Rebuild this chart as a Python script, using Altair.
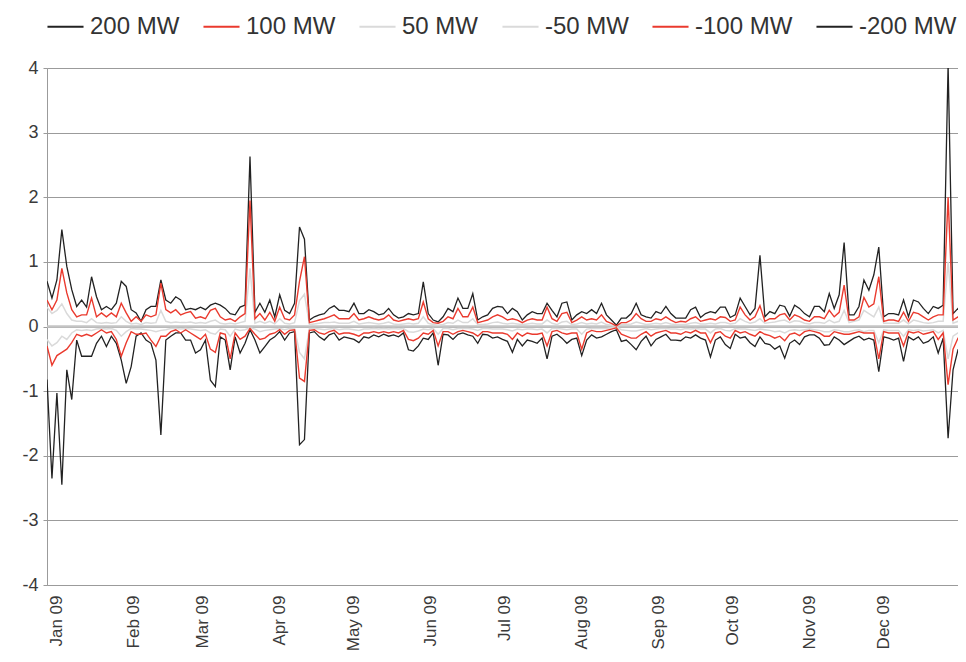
import altair as alt
import pandas as pd

# ---- data (values every 2 days) ----
p200 = [0.70,0.44,0.72,1.50,0.93,0.57,0.31,0.41,0.30,0.77,0.46,0.26,0.31,0.26,0.36,0.70,0.62,0.26,0.21,0.08,0.26,0.31,0.31,0.72,0.41,0.36,0.46,0.41,0.26,0.28,0.26,
        0.30,0.26,0.33,0.36,0.33,0.28,0.20,0.18,0.30,0.33,2.63,0.22,0.36,0.22,0.41,0.15,0.49,0.25,0.20,0.36,1.54,1.35,0.10,0.15,0.18,0.20,0.28,0.32,0.25,0.25,
        0.23,0.36,0.20,0.20,0.26,0.23,0.18,0.20,0.28,0.18,0.13,0.15,0.20,0.18,0.20,0.69,0.20,0.10,0.07,0.15,0.28,0.23,0.44,0.28,0.28,0.51,0.10,0.15,0.18,0.28,0.31,
        0.30,0.20,0.28,0.23,0.10,0.18,0.23,0.20,0.20,0.36,0.25,0.15,0.36,0.38,0.10,0.18,0.23,0.20,0.26,0.20,0.36,0.18,0.10,0.02,0.13,0.13,0.20,0.36,0.18,0.15,
        0.13,0.23,0.20,0.31,0.20,0.13,0.13,0.13,0.26,0.30,0.14,0.20,0.23,0.21,0.30,0.30,0.14,0.18,0.44,0.31,0.18,0.28,1.10,0.15,0.23,0.20,0.33,0.31,0.16,0.33,0.28,
        0.20,0.15,0.31,0.31,0.23,0.51,0.28,0.49,1.30,0.18,0.18,0.31,0.72,0.56,0.80,1.23,0.15,0.20,0.20,0.18,0.41,0.15,0.41,0.38,0.28,0.20,0.31,0.28,0.33,4.05,0.20,0.28,0.10]

p100 = [0.41,0.26,0.41,0.90,0.52,0.26,0.15,0.18,0.18,0.44,0.15,0.21,0.15,0.21,0.15,0.36,0.21,0.08,0.15,0.08,0.18,0.15,0.18,0.67,0.26,0.21,0.26,0.18,0.21,0.23,0.13,
        0.15,0.12,0.25,0.28,0.15,0.10,0.12,0.08,0.15,0.20,1.95,0.12,0.20,0.10,0.22,0.08,0.30,0.12,0.10,0.18,0.70,1.08,0.06,0.08,0.10,0.12,0.15,0.18,0.12,0.12,
        0.12,0.20,0.10,0.12,0.15,0.12,0.10,0.12,0.18,0.10,0.08,0.10,0.12,0.10,0.12,0.38,0.12,0.06,0.05,0.08,0.15,0.12,0.28,0.15,0.15,0.30,0.06,0.08,0.10,0.15,0.18,
        0.15,0.10,0.12,0.10,0.06,0.10,0.12,0.10,0.10,0.30,0.12,0.08,0.20,0.22,0.06,0.10,0.15,0.10,0.12,0.10,0.18,0.08,0.05,0.01,0.06,0.06,0.10,0.20,0.12,0.08,
        0.08,0.12,0.10,0.15,0.10,0.06,0.08,0.07,0.12,0.15,0.08,0.10,0.12,0.10,0.15,0.14,0.08,0.10,0.30,0.18,0.10,0.15,0.32,0.08,0.12,0.12,0.18,0.20,0.10,0.18,0.15,
        0.10,0.08,0.15,0.15,0.12,0.25,0.15,0.22,0.64,0.10,0.10,0.15,0.45,0.30,0.35,0.77,0.08,0.10,0.10,0.08,0.22,0.08,0.22,0.20,0.15,0.10,0.15,0.18,0.18,2.00,0.10,0.15,0.06]

p50 = [0.30,0.20,0.25,0.35,0.20,0.10,0.08,0.08,0.06,0.12,0.06,0.05,0.06,0.05,0.06,0.15,0.08,0.04,0.05,0.03,0.06,0.05,0.06,0.25,0.08,0.06,0.07,0.06,0.06,0.07,0.05,
       0.06,0.05,0.08,0.10,0.05,0.04,0.05,0.04,0.06,0.08,0.90,0.05,0.08,0.05,0.08,0.04,0.12,0.05,0.04,0.06,0.40,0.50,0.03,0.04,0.05,0.06,0.06,0.07,0.05,0.05,
       0.05,0.08,0.04,0.05,0.06,0.05,0.04,0.05,0.07,0.04,0.03,0.04,0.05,0.04,0.05,0.15,0.05,0.03,0.02,0.03,0.06,0.05,0.10,0.06,0.06,0.12,0.03,0.03,0.04,0.06,0.07,
       0.05,0.04,0.05,0.04,0.03,0.04,0.05,0.04,0.04,0.10,0.05,0.03,0.07,0.08,0.03,0.04,0.06,0.04,0.05,0.04,0.07,0.03,0.02,0.01,0.03,0.03,0.04,0.07,0.05,0.03,
       0.04,0.05,0.04,0.06,0.04,0.03,0.03,0.03,0.05,0.06,0.04,0.04,0.05,0.04,0.06,0.06,0.04,0.05,0.12,0.08,0.05,0.07,0.12,0.05,0.06,0.07,0.09,0.10,0.06,0.09,0.08,
       0.05,0.04,0.06,0.06,0.05,0.10,0.06,0.08,0.25,0.06,0.08,0.10,0.25,0.20,0.15,0.30,0.05,0.05,0.05,0.05,0.10,0.04,0.10,0.08,0.06,0.05,0.06,0.08,0.08,1.00,0.05,0.08,0.03]

n50 = [-0.20,-0.30,-0.25,-0.15,-0.20,-0.10,-0.05,-0.06,-0.05,-0.06,-0.04,-0.03,-0.04,-0.03,-0.06,-0.15,-0.08,-0.03,-0.04,-0.04,-0.05,-0.06,-0.08,-0.06,-0.05,-0.03,-0.03,-0.04,-0.03,-0.04,-0.05,
       -0.06,-0.05,-0.10,-0.12,-0.04,-0.05,-0.15,-0.04,-0.06,-0.05,-0.02,-0.04,-0.08,-0.06,-0.05,-0.04,-0.03,-0.05,-0.03,-0.03,-0.40,-0.50,-0.03,-0.03,-0.04,-0.05,-0.04,-0.03,-0.05,-0.04,
       -0.04,-0.05,-0.06,-0.04,-0.04,-0.03,-0.04,-0.03,-0.04,-0.03,-0.04,-0.03,-0.08,-0.09,-0.07,-0.04,-0.05,-0.03,-0.12,-0.03,-0.03,-0.05,-0.03,-0.03,-0.03,-0.04,-0.06,-0.03,-0.03,-0.04,-0.04,
       -0.04,-0.05,-0.07,-0.04,-0.05,-0.04,-0.04,-0.05,-0.04,-0.10,-0.03,-0.03,-0.04,-0.05,-0.04,-0.04,-0.12,-0.04,-0.03,-0.03,-0.03,-0.03,-0.02,-0.01,-0.05,-0.06,-0.07,-0.07,-0.05,-0.03,
       -0.05,-0.04,-0.03,-0.03,-0.04,-0.04,-0.05,-0.03,-0.04,-0.03,-0.04,-0.04,-0.10,-0.04,-0.03,-0.06,-0.07,-0.03,-0.04,-0.04,-0.05,-0.06,-0.04,-0.05,-0.06,-0.08,-0.07,-0.10,-0.06,-0.05,-0.06,
       -0.05,-0.04,-0.05,-0.06,-0.08,-0.08,-0.05,-0.06,-0.08,-0.08,-0.06,-0.05,-0.08,-0.06,-0.06,-0.25,-0.05,-0.06,-0.06,-0.06,-0.15,-0.05,-0.06,-0.05,-0.07,-0.06,-0.05,-0.10,-0.06,-0.50,-0.15,-0.10,-0.06]

n100 = [-0.30,-0.60,-0.45,-0.40,-0.35,-0.25,-0.12,-0.15,-0.12,-0.15,-0.10,-0.05,-0.10,-0.08,-0.20,-0.46,-0.25,-0.08,-0.12,-0.12,-0.10,-0.21,-0.31,-0.15,-0.15,-0.08,-0.05,-0.10,-0.05,-0.10,-0.15,
        -0.20,-0.12,-0.35,-0.40,-0.10,-0.12,-0.50,-0.10,-0.20,-0.15,-0.03,-0.12,-0.20,-0.18,-0.12,-0.10,-0.05,-0.12,-0.06,-0.05,-0.80,-0.85,-0.06,-0.05,-0.10,-0.12,-0.08,-0.06,-0.12,-0.10,
        -0.10,-0.12,-0.15,-0.10,-0.10,-0.08,-0.10,-0.08,-0.10,-0.08,-0.10,-0.06,-0.20,-0.22,-0.18,-0.10,-0.12,-0.06,-0.30,-0.08,-0.08,-0.12,-0.08,-0.06,-0.08,-0.10,-0.15,-0.08,-0.08,-0.10,-0.10,
        -0.10,-0.12,-0.20,-0.10,-0.15,-0.10,-0.12,-0.12,-0.10,-0.30,-0.08,-0.06,-0.10,-0.12,-0.10,-0.10,-0.35,-0.10,-0.06,-0.08,-0.08,-0.06,-0.04,-0.02,-0.12,-0.15,-0.18,-0.18,-0.12,-0.08,
        -0.15,-0.10,-0.08,-0.06,-0.10,-0.10,-0.12,-0.08,-0.10,-0.06,-0.10,-0.10,-0.25,-0.10,-0.08,-0.15,-0.18,-0.06,-0.10,-0.08,-0.12,-0.15,-0.08,-0.12,-0.14,-0.18,-0.15,-0.22,-0.12,-0.10,-0.14,
        -0.08,-0.06,-0.08,-0.10,-0.15,-0.15,-0.08,-0.10,-0.12,-0.12,-0.10,-0.08,-0.10,-0.10,-0.10,-0.50,-0.08,-0.10,-0.10,-0.10,-0.30,-0.08,-0.10,-0.08,-0.12,-0.10,-0.08,-0.20,-0.10,-0.90,-0.35,-0.18,-0.12]

n200 = [-0.82,-2.35,-1.03,-2.45,-0.67,-1.13,-0.21,-0.46,-0.46,-0.46,-0.26,-0.15,-0.31,-0.15,-0.26,-0.52,-0.88,-0.62,-0.15,-0.10,-0.21,-0.26,-0.52,-1.68,-0.21,-0.15,-0.10,-0.10,-0.21,-0.21,-0.41,
        -0.36,-0.21,-0.83,-0.93,-0.16,-0.21,-0.67,-0.16,-0.41,-0.26,-0.05,-0.21,-0.41,-0.31,-0.21,-0.16,-0.08,-0.21,-0.10,-0.08,-1.83,-1.75,-0.10,-0.08,-0.16,-0.21,-0.13,-0.10,-0.21,-0.16,
        -0.18,-0.20,-0.25,-0.16,-0.18,-0.13,-0.16,-0.12,-0.15,-0.13,-0.16,-0.10,-0.36,-0.38,-0.30,-0.18,-0.20,-0.10,-0.60,-0.12,-0.13,-0.20,-0.12,-0.10,-0.13,-0.15,-0.26,-0.12,-0.13,-0.18,-0.16,
        -0.20,-0.23,-0.40,-0.20,-0.30,-0.21,-0.23,-0.26,-0.18,-0.50,-0.15,-0.12,-0.18,-0.26,-0.20,-0.18,-0.45,-0.21,-0.13,-0.18,-0.16,-0.12,-0.08,-0.05,-0.23,-0.21,-0.28,-0.36,-0.23,-0.15,
        -0.30,-0.20,-0.16,-0.12,-0.21,-0.21,-0.22,-0.16,-0.18,-0.13,-0.18,-0.21,-0.47,-0.21,-0.16,-0.28,-0.34,-0.12,-0.18,-0.16,-0.25,-0.31,-0.16,-0.26,-0.28,-0.35,-0.30,-0.49,-0.26,-0.21,-0.28,
        -0.16,-0.13,-0.13,-0.18,-0.29,-0.28,-0.16,-0.21,-0.28,-0.23,-0.18,-0.15,-0.21,-0.18,-0.21,-0.70,-0.16,-0.18,-0.21,-0.18,-0.54,-0.16,-0.21,-0.16,-0.26,-0.23,-0.16,-0.41,-0.18,-1.73,-0.67,-0.36,-0.26]

series_names = ["200 MW", "100 MW", "50 MW", "-50 MW", "-100 MW", "-200 MW"]
colors = ["#222222", "#ea3a2e", "#dadada", "#dadada", "#ea3a2e", "#222222"]
groups = ["black", "red", "gray", "gray", "red", "black"]
month_ticks = list(range(1, 13))

start = pd.Timestamp("2008-12-28")
dates = [(start + pd.Timedelta(days=d)).strftime("%Y-%m-%dT00:00:00") for d in range(0, 371, 2)]

rows = []
for name, grp, vals in zip(series_names, groups, [p200, p100, p50, n50, n100, n200]):
    for d, v in zip(dates, vals):
        rows.append({"date": d, "value": v, "series": name, "grp": grp})
df = pd.DataFrame(rows)

FONT = "Liberation Sans"

x_enc = alt.X(
    "date:T",
    scale=alt.Scale(domain=[alt.DateTime(year=2008, month=12, date=28),
                            alt.DateTime(year=2009, month=12, date=31)]),
    axis=alt.Axis(values=[alt.DateTime(year=2009, month=m, date=1) for m in month_ticks],
                  format="%b %y", labelAngle=270, grid=False, ticks=False,
                  labelPadding=10, labelFontSize=17, labelColor="#3a3a3a",
                  labelFont=FONT, domainColor="#9b9b9b", title=None),
)
y_enc = alt.Y(
    "value:Q",
    scale=alt.Scale(domain=[-4, 4], nice=False),
    axis=alt.Axis(values=list(range(-4, 5)), grid=True, gridColor="#9b9b9b",
                  gridWidth=1, tickSize=4, tickColor="#9b9b9b", domainColor="#9b9b9b",
                  labelExpr="'' + datum.value",
                  labelFontSize=18, labelColor="#3a3a3a", labelFont=FONT,
                  labelPadding=5, title=None),
)
color_enc = alt.Color(
    "series:N",
    scale=alt.Scale(domain=series_names, range=colors),
    legend=alt.Legend(title=None, orient="none", legendX=-1, legendY=-61,
                      direction="horizontal", symbolType="stroke", symbolSize=1300,
                      symbolStrokeWidth=2, labelFontSize=24, labelColor="#333333",
                      labelFont=FONT, columnPadding=19, labelOffset=5),
)

base = alt.Chart(df).encode(x=x_enc, y=y_enc, color=color_enc, detail="series:N")

zero = alt.Chart(pd.DataFrame({"value": [0]})).mark_rule(
    color="#c4c4c4", strokeWidth=2.5).encode(y=alt.Y("value:Q"))

gray = base.transform_filter(alt.datum.grp == "gray").mark_line(strokeWidth=1.5, clip=True)
black = base.transform_filter(alt.datum.grp == "black").mark_line(strokeWidth=1.3, clip=True)
red = base.transform_filter(alt.datum.grp == "red").mark_line(strokeWidth=1.4, clip=True)

chart = alt.layer(zero, gray, black, red).properties(
    width=911, height=517,
    padding={"left": 39, "top": 60, "right": 0, "bottom": 69},
    autosize=alt.AutoSizeParams(type="none"),
).configure_view(stroke="#9b9b9b").configure(background="white")

chart.save("out.html", embed_options={"renderer": "svg", "actions": False})
